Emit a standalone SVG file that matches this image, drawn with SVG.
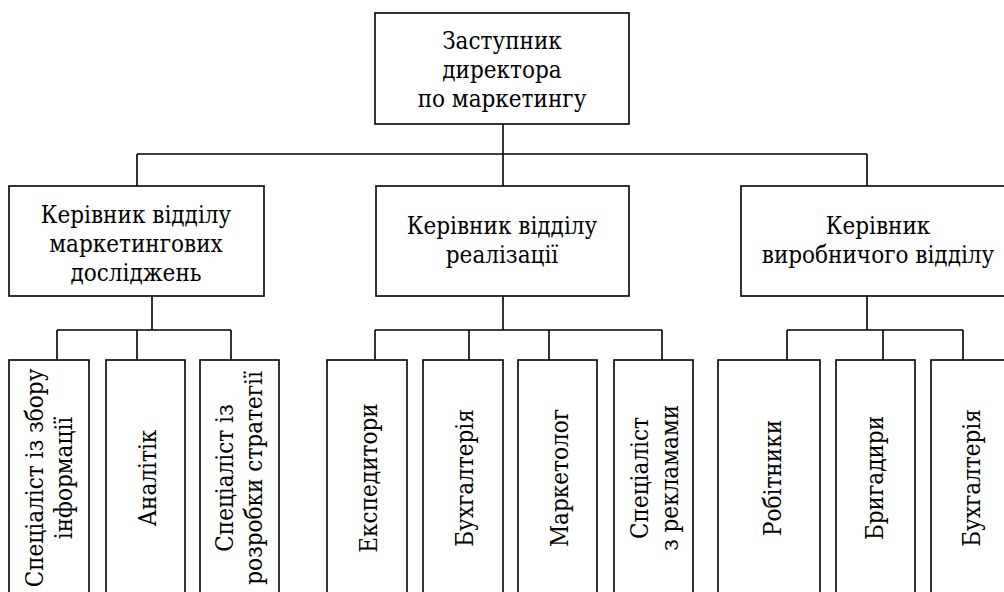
<svg xmlns="http://www.w3.org/2000/svg" width="1004" height="592" viewBox="0 0 1004 592">
<style>
.box{fill:#fff;stroke:#000;stroke-width:1.6}
.ln{fill:none;stroke:#000;stroke-width:1.6}
.t{font-family:'DejaVu Serif Condensed','DejaVu Serif',serif;font-stretch:condensed;font-size:24px;fill:#000;text-anchor:middle}
</style>
<rect width="1004" height="592" fill="#fff"/>
<g id="connectors">
<path class="ln" d="M503 124V154M137 154H867M137 154V186M503 154V186M867 154V186"/>
<path class="ln" d="M152 296V330M57 330H231M57 330V360M137 330V360M231 330V360"/>
<path class="ln" d="M503 296V330M375 330H662M375 330V360M469 330V360M549 330V360M662 330V360"/>
<path class="ln" d="M867 296V330M787 330H963M787 330V360M883 330V360M963 330V360"/>
</g>
<g id="labels" class="t">
<g id="n-top"><rect class="box" x="375" y="13" width="254" height="111"/>
<text x="502" y="49">Заступник</text><text x="502" y="78">директора</text><text x="502" y="107">по маркетингу</text></g>
<g id="n-research"><rect class="box" x="9" y="186" width="255" height="110"/>
<text x="136" y="223">Керівник відділу</text><text x="136" y="252">маркетингових</text><text x="136" y="281">досліджень</text></g>
<g id="n-sales"><rect class="box" x="376" y="186" width="253" height="110"/>
<text x="502" y="234">Керівник відділу</text><text x="502" y="263">реалізації</text></g>
<g id="n-prod"><rect class="box" x="741" y="186" width="272" height="110"/>
<text x="878" y="234">Керівник</text><text x="878" y="263">виробничого відділу</text></g>
<g id="n-s1"><rect class="box" x="9" y="360" width="80" height="240"/>
<text transform="translate(43,478) rotate(-90)">Спеціаліст із збору</text>
<text transform="translate(72,478) rotate(-90)">інформації</text></g>
<g id="n-s2"><rect class="box" x="106" y="360" width="79" height="240"/>
<text transform="translate(156,478) rotate(-90)">Аналітік</text></g>
<g id="n-s3"><rect class="box" x="200" y="360" width="79" height="240"/>
<text transform="translate(233,478) rotate(-90)">Спеціаліст із</text>
<text transform="translate(262,478) rotate(-90)">розробки стратегії</text></g>
<g id="n-r1"><rect class="box" x="327" y="360" width="80" height="240"/>
<text transform="translate(377,478) rotate(-90)">Експедитори</text></g>
<g id="n-r2"><rect class="box" x="423" y="360" width="80" height="240"/>
<text transform="translate(473,478) rotate(-90)">Бухгалтерія</text></g>
<g id="n-r3"><rect class="box" x="518" y="360" width="79" height="240"/>
<text transform="translate(568,478) rotate(-90)">Маркетолог</text></g>
<g id="n-r4"><rect class="box" x="614" y="360" width="79" height="240"/>
<text transform="translate(648,478) rotate(-90)">Спеціаліст</text>
<text transform="translate(678,478) rotate(-90)">з рекламами</text></g>
<g id="n-p1"><rect class="box" x="718" y="360" width="102" height="240"/>
<text transform="translate(781,478) rotate(-90)">Робітники</text></g>
<g id="n-p2"><rect class="box" x="836" y="360" width="79" height="240"/>
<text transform="translate(883,478) rotate(-90)">Бригадири</text></g>
<g id="n-p3"><rect class="box" x="931" y="360" width="80" height="240"/>
<text transform="translate(980,478) rotate(-90)">Бухгалтерія</text></g>
</g>
</svg>
